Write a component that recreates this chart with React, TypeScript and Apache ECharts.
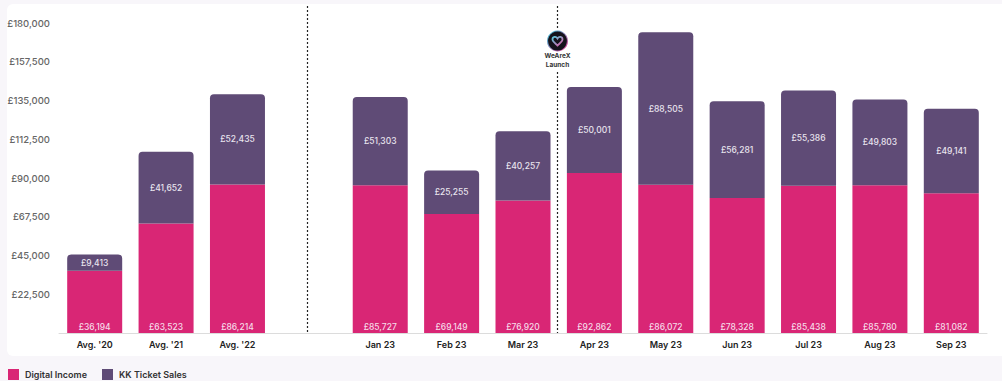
import React, { useEffect, useRef } from "react";
import * as echarts from "echarts";

const categories = ["Avg. '20", "Avg. '21", "Avg. '22", "", "Jan 23", "Feb 23", "Mar 23", "Apr 23", "May 23", "Jun 23", "Jul 23", "Aug 23", "Sep 23"];
const digitalIncome = [36194, 63523, 86214, null, 85727, 69149, 76920, 92862, 86072, 78328, 85438, 85780, 81082];
const ticketSales = [9413, 41652, 52435, null, 51303, 25255, 40257, 50001, 88505, 56281, 55386, 49803, 49141];
const axisMax = 180000;
const axisStep = 22500;

const FONT = "Inter, 'Noto Sans', sans-serif";
const PINK = "#d92675";
const PURPLE = "#5f4b76";

const money = (v: number) => "£" + v.toLocaleString("en-GB");

// The launch badge: a dark disc, a cyan-to-pink rim and a small heart mark.
echarts.graphic.registerShape(
  "launchHeart",
  echarts.graphic.extendPath(
    "M0 -2 C1.5 -4.5 5 -4 5 -1 C5 1 2 3 0 5 C-2 3 -5 1 -5 -1 C-5 -4 -1.5 -4.5 0 -2 Z",
    {}
  )
);

export default function App() {
  const ref = useRef<HTMLDivElement>(null);

  useEffect(() => {
    const chart = echarts.init(ref.current!, null, { renderer: "svg" });
    chart.setOption({
      animation: false,
      backgroundColor: "#f8f6fa",
      textStyle: { fontFamily: FONT },
      grid: { left: 59, right: 15, top: 23, height: 310, containLabel: false },
      legend: {
        left: 8,
        top: 369,
        padding: 0,
        itemWidth: 11,
        itemHeight: 11,
        itemGap: 15,
        selectedMode: false,
        textStyle: { fontSize: 9, fontWeight: 600, color: "#333", fontFamily: FONT, padding: [3, 0, 0, 1] },
        data: [
          { name: "Digital Income", icon: "rect" },
          { name: "KK Ticket Sales", icon: "rect" },
        ],
      },
      xAxis: {
        type: "category",
        data: categories,
        axisLine: { lineStyle: { color: "#dcdcdc", width: 1 } },
        axisTick: { show: false },
        axisLabel: { color: "#222", fontSize: 9, fontWeight: 600, margin: 7, fontFamily: FONT, interval: 0 },
      },
      yAxis: {
        type: "value",
        min: 0,
        max: axisMax,
        interval: axisStep,
        axisLine: { show: false },
        axisTick: { show: false },
        splitLine: { show: false },
        axisLabel: {
          color: "#666",
          fontSize: 9.5,
          fontWeight: 500,
          margin: 9,
          fontFamily: FONT,
          formatter: (v: number) => (v === 0 ? "" : money(v)),
        },
      },
      series: [
        {
          name: "Digital Income",
          type: "bar",
          stack: "income",
          barWidth: 55,
          itemStyle: { color: PINK },
          label: {
            show: true,
            position: "insideBottom",
            distance: 2,
            color: "#f6dbe8",
            fontSize: 8.5,
            fontWeight: 500,
            fontFamily: FONT,
            formatter: (p: any) => money(p.value),
          },
          data: digitalIncome,
        },
        {
          name: "KK Ticket Sales",
          type: "bar",
          stack: "income",
          barWidth: 55,
          itemStyle: { color: PURPLE, borderRadius: [4, 4, 0, 0] },
          label: {
            show: true,
            position: "inside",
            color: "#e9e4ee",
            fontSize: 8.5,
            fontWeight: 500,
            fontFamily: FONT,
            formatter: (p: any) => money(p.value),
          },
          data: ticketSales,
        },
      ],
    });

    // Divider positions come from the category scale: one on the empty slot,
    // one halfway between March and April.
    const slot = chart.convertToPixel({ xAxisIndex: 0 }, 3) as number;
    const mar = chart.convertToPixel({ xAxisIndex: 0 }, 6) as number;
    const apr = chart.convertToPixel({ xAxisIndex: 0 }, 7) as number;
    const launchX = Math.floor((mar + apr) / 2) - 0.5;
    const slotX = Math.floor(slot) - 0.5;
    const baseY = chart.convertToPixel({ yAxisIndex: 0 }, 0) as number;
    const dotted = { stroke: "#222", lineWidth: 1.2, lineDash: [2, 2] };

    chart.setOption({
      graphic: [
        {
          type: "rect",
          z: -10,
          silent: true,
          shape: { x: 7, y: 4, width: 1000, height: 352, r: 6 },
          style: { fill: "#ffffff" },
        },
        {
          type: "line",
          z: 1,
          shape: { x1: slotX, y1: 6, x2: slotX, y2: baseY },
          style: dotted,
        },
        { type: "line", z: 1, shape: { x1: launchX, y1: 6, x2: launchX, y2: 28 }, style: dotted },
        { type: "line", z: 1, shape: { x1: launchX, y1: 72, x2: launchX, y2: baseY }, style: dotted },
        {
          type: "circle",
          z: 5,
          shape: { cx: launchX, cy: 41, r: 10.5 },
          style: {
            fill: {
              type: "linear",
              x: 0,
              y: 0,
              x2: 1,
              y2: 1,
              colorStops: [
                { offset: 0, color: "#2fc4d8" },
                { offset: 1, color: "#e0348c" },
              ],
            },
          },
        },
        { type: "circle", z: 6, shape: { cx: launchX, cy: 41, r: 9.4 }, style: { fill: "#15131c" } },
        {
          type: "launchHeart",
          z: 7,
          x: launchX,
          y: 40.5,
          style: {
            fill: "none",
            lineWidth: 1.8,
            stroke: {
              type: "linear",
              x: 0,
              y: 0,
              x2: 1,
              y2: 1,
              colorStops: [
                { offset: 0, color: "#5cc9dc" },
                { offset: 1, color: "#e05aa6" },
              ],
            },
          },
        },
        {
          type: "text",
          z: 7,
          x: launchX,
          y: 56,
          style: { text: "WeAreX", fill: "#333", font: `700 6.5px ${FONT}`, align: "center", verticalAlign: "middle" },
        },
        {
          type: "text",
          z: 7,
          x: launchX,
          y: 65,
          style: { text: "Launch", fill: "#333", font: `700 6.5px ${FONT}`, align: "center", verticalAlign: "middle" },
        },
      ],
    });
    return () => chart.dispose();
  }, []);

  return <div ref={ref} style={{ position: "fixed", left: 0, top: 0, width: 1002, height: 381 }} />;
}
